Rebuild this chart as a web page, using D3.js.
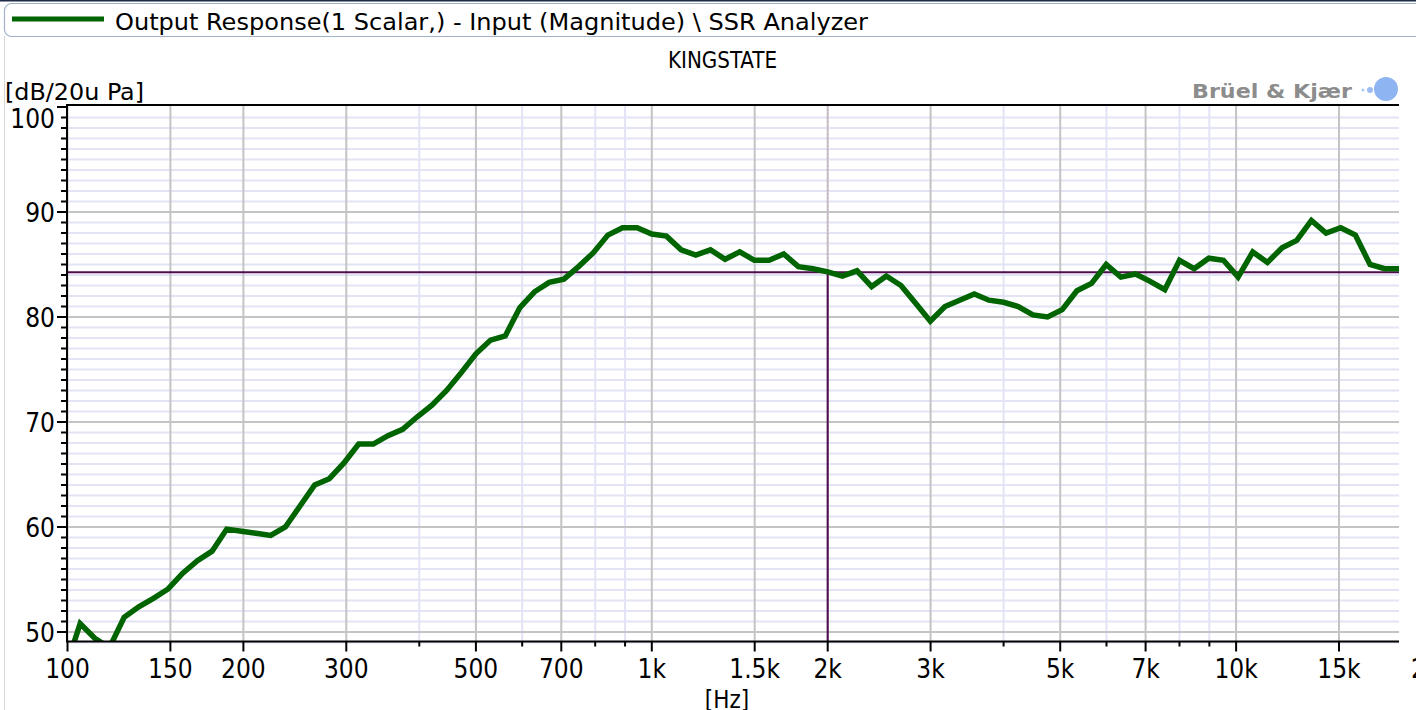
<!DOCTYPE html>
<html>
<head>
<meta charset="utf-8">
<script src="https://cdn.jsdelivr.net/npm/d3@7"></script>
<style>
  body { margin: 0; background: #fff; }
  svg { display: block; font-family: "DejaVu Sans Condensed", "DejaVu Sans", sans-serif; }
</style>
</head>
<body>
<script>
// 1/12 octave measurement points [Hz]
var freqs = [
  99.21, 105.11, 111.36, 117.98, 125.0, 132.43, 140.31, 148.65, 157.49, 166.86,
  176.78, 187.29, 198.43, 210.22, 222.72, 235.97, 250.0, 264.87, 280.62, 297.3,
  314.98, 333.71, 353.55, 374.58, 396.85, 420.45, 445.45, 471.94, 500.0, 529.73,
  561.23, 594.6, 629.96, 667.42, 707.11, 749.15, 793.7, 840.9, 890.9, 943.87,
  1000, 1059.5, 1122.5, 1189.2, 1259.9, 1334.8, 1414.2, 1498.3, 1587.4, 1681.8,
  1781.8, 1887.7, 2000, 2118.9, 2244.9, 2378.4, 2519.8, 2669.7, 2828.4, 2996.6,
  3174.8, 3363.6, 3563.6, 3775.5, 4000, 4237.8, 4489.8, 4756.8, 5039.7, 5339.4,
  5656.9, 5993.2, 6349.6, 6727.2, 7127.2, 7551.0, 8000, 8475.7, 8979.7, 9513.7,
  10079.4, 10678.8, 11313.7, 11986.6, 12699.2, 13454.3, 14254.4, 15101.8, 16000, 16951.4,
  17959.4, 19027.3
];
// level [dB re 20uPa]
var levels = [
  46.5, 50.8, 49.4, 48.5, 51.4, 52.4, 53.2, 54.1, 55.6, 56.8,
  57.7, 59.8, 59.6, 59.4, 59.2, 60.0, 62.0, 64.0, 64.6, 66.1,
  67.9, 67.9, 68.7, 69.3, 70.5, 71.6, 73.0, 74.7, 76.5, 77.8,
  78.2, 80.9, 82.4, 83.3, 83.6, 84.8, 86.1, 87.8, 88.5, 88.5,
  87.9, 87.7, 86.4, 85.9, 86.4, 85.5, 86.2, 85.4, 85.4, 86.0,
  84.8, 84.6, 84.3, 83.9, 84.4, 82.9, 83.9, 83.0, 81.3, 79.6,
  81.0, 81.6, 82.2, 81.6, 81.4, 81.0, 80.2, 80.0, 80.7, 82.5,
  83.2, 85.0, 83.8, 84.1, 83.4, 82.6, 85.4, 84.6, 85.6, 85.4,
  83.8, 86.2, 85.2, 86.6, 87.3, 89.2, 88.0, 88.5, 87.8, 85.0,
  84.6, 84.6
];

var majorFreqs = [100, 150, 200, 300, 500, 700, 1000, 1500, 2000, 3000, 5000, 7000, 10000, 15000, 20000];
var majorFreqLabels = ["100", "150", "200", "300", "500", "700", "1k", "1.5k", "2k", "3k", "5k", "7k", "10k", "15k", "20k"];
var minorFreqs = [400, 600, 800, 900, 4000, 6000, 8000, 9000];
var majorLevels = [50, 60, 70, 80, 90, 100];

var cursorFreq = 2000;
var cursorLevel = 84.26;

var legendText = "Output Response(1 Scalar,) - Input (Magnitude) \\ SSR Analyzer";
var chartTitle = "KINGSTATE";
var yTitle = "[dB/20u Pa]";
var xTitle = "[Hz]";

var W = 1416, H = 710;
var plot = { left: 67, right: 1399, top: 105, bottom: 641.5 };

var svg = d3.select("body").append("svg")
  .attr("width", W)
  .attr("height", H);

var x = d3.scaleLog().domain([100, 20000]).range([67.5, 1412]);
var y = d3.scaleLinear().domain([50, 100]).range([632, 107]);

// frame bits around the graph
svg.append("rect").attr("x", 0).attr("y", 0).attr("width", W).attr("height", 1.5).attr("fill", "#1d2c48");
svg.append("line")
  .attr("x1", 4.5).attr("x2", 4.5).attr("y1", 36).attr("y2", H)
  .attr("stroke", "#d6d6d6").attr("stroke-width", 1);

// legend box
svg.append("rect")
  .attr("x", 4.5).attr("y", 3.5)
  .attr("width", 1440).attr("height", 33)
  .attr("rx", 7)
  .attr("fill", "#fff")
  .attr("stroke", "#9fb2c8")
  .attr("stroke-width", 1.2);
svg.append("line")
  .attr("x1", 12).attr("x2", 104).attr("y1", 19).attr("y2", 19)
  .attr("stroke", "#006400").attr("stroke-width", 5);
svg.append("text")
  .attr("x", 115).attr("y", 30)
  .attr("font-size", 23.5)
  .attr("textLength", 753)
  .attr("lengthAdjust", "spacingAndGlyphs")
  .text(legendText);

// title
svg.append("text")
  .attr("x", 668).attr("y", 68)
  .attr("font-size", 23.5)
  .attr("textLength", 109)
  .attr("lengthAdjust", "spacingAndGlyphs")
  .text(chartTitle);

// y unit
svg.append("text")
  .attr("x", 5).attr("y", 100)
  .attr("font-size", 23.5)
  .attr("textLength", 139)
  .attr("lengthAdjust", "spacingAndGlyphs")
  .text(yTitle);

// Brüel & Kjær mark
svg.append("text")
  .attr("x", 1192).attr("y", 98)
  .attr("font-size", 20)
  .attr("font-weight", "bold")
  .attr("fill", "#8c8c8c")
  .attr("textLength", 160)
  .attr("lengthAdjust", "spacingAndGlyphs")
  .text("Brüel & Kjær");
svg.append("circle").attr("cx", 1386).attr("cy", 89).attr("r", 12).attr("fill", "#8fb4f2");
svg.append("circle").attr("cx", 1370).attr("cy", 90).attr("r", 3).attr("fill", "#9cbcf2");
svg.append("circle").attr("cx", 1363).attr("cy", 90).attr("r", 1.6).attr("fill", "#b0caf4");

// grid: minor first, then major
var grid = svg.append("g");
var minorLevels = d3.range(49, 101).filter(function(d) { return d % 10 !== 0; });
grid.selectAll(".ymin").data(minorLevels).enter().append("line")
  .attr("x1", plot.left).attr("x2", plot.right)
  .attr("y1", function(d) { return y(d); })
  .attr("y2", function(d) { return y(d); })
  .attr("stroke", "#e3e3f6").attr("stroke-width", 2);
grid.selectAll(".xmin").data(minorFreqs).enter().append("line")
  .attr("x1", function(d) { return x(d); })
  .attr("x2", function(d) { return x(d); })
  .attr("y1", plot.top).attr("y2", plot.bottom)
  .attr("stroke", "#e3e3f6").attr("stroke-width", 2);
grid.selectAll(".ymaj").data(majorLevels.filter(function(d) { return y(d) > plot.top + 2; })).enter().append("line")
  .attr("x1", plot.left).attr("x2", plot.right)
  .attr("y1", function(d) { return y(d); })
  .attr("y2", function(d) { return y(d); })
  .attr("stroke", "#c4c4c4").attr("stroke-width", 2);
grid.selectAll(".xmaj").data(majorFreqs.filter(function(d) { return x(d) < plot.right; })).enter().append("line")
  .attr("x1", function(d) { return x(d); })
  .attr("x2", function(d) { return x(d); })
  .attr("y1", plot.top).attr("y2", plot.bottom)
  .attr("stroke", "#c4c4c4").attr("stroke-width", 2);

// cursor
var cx = x(cursorFreq), cy = y(cursorLevel);
svg.append("line")
  .attr("x1", cx).attr("x2", cx).attr("y1", plot.top).attr("y2", cy)
  .attr("stroke", "#c9a3c9").attr("stroke-width", 1)
  .attr("stroke-dasharray", "2,2");
svg.append("line")
  .attr("x1", plot.left).attr("x2", plot.right).attr("y1", cy).attr("y2", cy)
  .attr("stroke", "#4f0b4f").attr("stroke-width", 2);
svg.append("line")
  .attr("x1", cx).attr("x2", cx).attr("y1", cy).attr("y2", plot.bottom)
  .attr("stroke", "#4f0b4f").attr("stroke-width", 2);

// response curve
svg.append("clipPath").attr("id", "plotclip")
  .append("rect")
  .attr("x", plot.left).attr("y", plot.top)
  .attr("width", plot.right - plot.left)
  .attr("height", plot.bottom - plot.top);

var line = d3.line()
  .x(function(d, i) { return x(freqs[i]); })
  .y(function(d) { return y(d); });

svg.append("path")
  .datum(levels)
  .attr("clip-path", "url(#plotclip)")
  .attr("d", line)
  .attr("fill", "none")
  .attr("stroke", "#006400")
  .attr("stroke-width", 5.5)
  .attr("stroke-linejoin", "miter");

// axis lines
svg.append("line")
  .attr("x1", plot.left).attr("x2", plot.right).attr("y1", plot.top).attr("y2", plot.top)
  .attr("stroke", "#000").attr("stroke-width", 2);
svg.append("line")
  .attr("x1", plot.left).attr("x2", plot.left).attr("y1", plot.top - 1).attr("y2", plot.bottom + 1)
  .attr("stroke", "#000").attr("stroke-width", 2);
svg.append("line")
  .attr("x1", plot.left).attr("x2", plot.right).attr("y1", plot.bottom).attr("y2", plot.bottom)
  .attr("stroke", "#000").attr("stroke-width", 2);

// y ticks
var yTicks = d3.range(49, 101).filter(function(d) { return y(d) >= plot.top && y(d) <= plot.bottom; });
svg.selectAll(".ytick").data(yTicks).enter().append("line")
  .attr("x1", function(d) { return d % 10 === 0 ? plot.left - 10 : plot.left - 6; })
  .attr("x2", plot.left)
  .attr("y1", function(d) { return y(d); })
  .attr("y2", function(d) { return y(d); })
  .attr("stroke", "#000").attr("stroke-width", 2);
svg.selectAll(".ylab").data(majorLevels).enter().append("text")
  .attr("x", 55)
  .attr("y", function(d) { return Math.max(y(d), 118) + 9.5; })
  .attr("text-anchor", "end")
  .attr("font-size", 26)
  .text(function(d) { return d; });

// x ticks
svg.selectAll(".xtick").data(majorFreqs.concat(minorFreqs).filter(function(d) { return x(d) < plot.right; }))
  .enter().append("line")
  .attr("x1", function(d) { return x(d); })
  .attr("x2", function(d) { return x(d); })
  .attr("y1", plot.bottom)
  .attr("y2", function(d) { return majorFreqs.indexOf(d) >= 0 ? plot.bottom + 10 : plot.bottom + 5; })
  .attr("stroke", "#000").attr("stroke-width", 2);
svg.selectAll(".xlab").data(majorFreqs).enter().append("text")
  .attr("x", function(d, i) { return i === majorFreqs.length - 1 ? x(d) - 1 : x(d); })
  .attr("y", 678)
  .attr("text-anchor", function(d, i) { return i === majorFreqs.length - 1 ? "start" : "middle"; })
  .attr("font-size", 26)
  .text(function(d, i) { return majorFreqLabels[i]; });

svg.append("text")
  .attr("x", 727).attr("y", 708)
  .attr("text-anchor", "middle")
  .attr("font-size", 24)
  .text(xTitle);
</script>
</body>
</html>
